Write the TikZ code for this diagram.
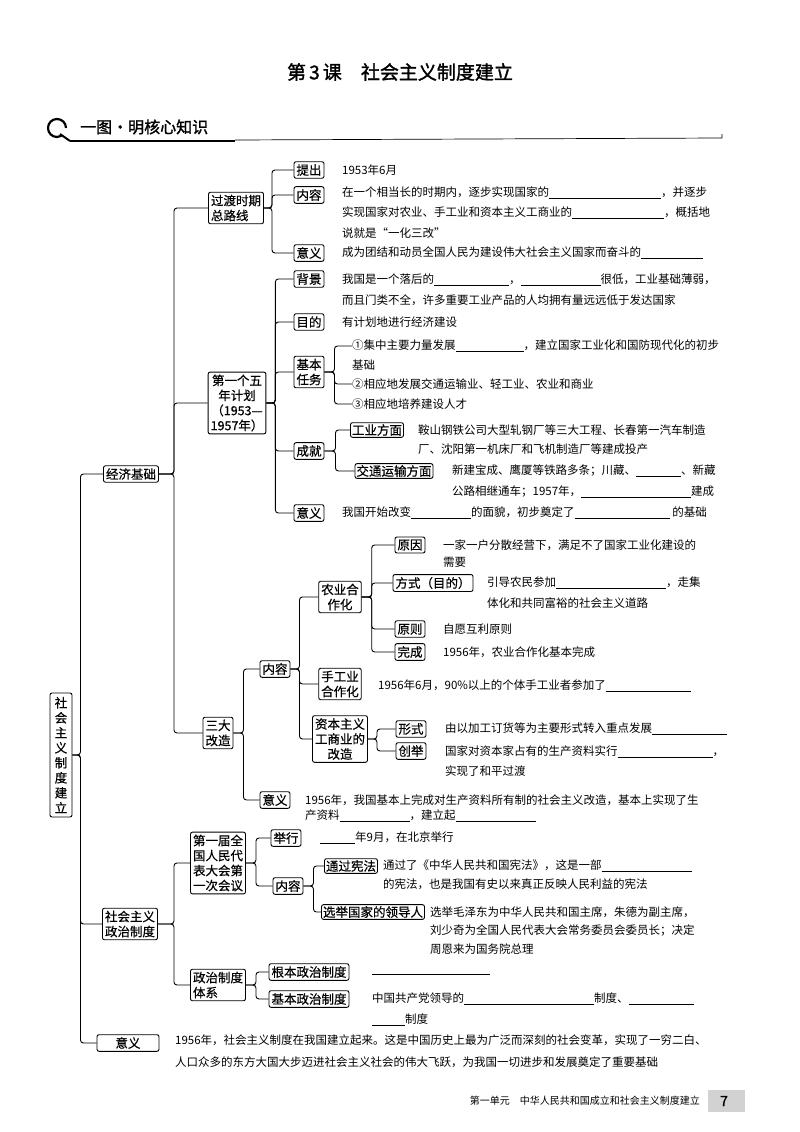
\documentclass[tikz,border=0pt]{standalone}
\usepackage{fontspec}
\setmainfont{Noto Sans CJK SC}[AutoFakeBold=1.5]
\newfontfamily\boxf{Noto Sans CJK SC}[AutoFakeBold=0.5]
\newcommand\bl[1]{\rule[-2pt]{#1pt}{0.6pt}}
\begin{document}
\begin{tikzpicture}[x=1pt,y=-1pt,
  every node/.style={font=\fontsize{11.5}{15}\selectfont},
  bx/.style={draw,rounded corners=2pt,line width=0.9pt,inner sep=2.5pt,align=center,font=\fontsize{12.5}{15}\boxf\bfseries},
  tx/.style={anchor=west,inner sep=0pt},
  ln/.style={line width=0.9pt,rounded corners=3pt}]
\useasboundingbox (0,0) rectangle (800,1132);
\fill[white] (0,0) rectangle (800,1132);
% title
\node (title) at (400,72) {\fontsize{19}{22}\selectfont\bfseries 第\,3\,课\quad 社会主义制度建立};
\draw[line width=2.2pt] (66,128) arc (0:-300:9) coordinate (qa);
\draw[line width=2pt] (60,134) -- (70,141);
\node[tx] (hdr) at (80,127) {\fontsize{16}{18}\selectfont\bfseries 一图·明核心知识};
\draw[line width=1.8pt] (70,141) -- (235,141);
\draw[line width=0.7pt] (235,140) -- (722,138) -- (722,134);
% root
\node[bx,text width=14pt,inner sep=4pt] (root) at (61,755) {社\\会\\主\\义\\制\\度\\建\\立};
\node[bx] (jj) at (131,474) {经济基础};
\node[bx,align=left] (zz) at (130,924) {社会主义\\政治制度};
\node[bx,minimum width=62pt] (yy) at (128,1043) {意义};
\foreach \c in {jj,zz,yy}{\draw[ln] (root.east) -- ++(8,0) |- (\c.west);}
% economy
\node[bx,align=left] (gd) at (236,208) {过渡时期\\总路线};
\node[bx] (wn) at (237,403) {第一个五\\年计划\\（1953—\\1957年）};
\node[bx] (sd) at (218,733) {三大\\改造};
\foreach \c in {gd,wn,sd}{\draw[ln] (jj.east) -- ++(15,0) |- (\c.west);}
% guodu
\node[bx] (tc) at (309,170) {提出};
\node[bx] (nr) at (309,195) {内容};
\node[bx] (yy1) at (309,253) {意义};
\foreach \c in {tc,nr,yy1}{\draw[ln] (gd.east) -- ++(8,0) |- (\c.west);}
\node[tx] at (342,170) {1953年6月};
\node[tx] at (342,193) {在一个相当长的时期内，逐步实现国家的\bl{112}，并逐步};
\node[tx] at (342,213) {实现国家对农业、手工业和资本主义工商业的\bl{92}，概括地};
\node[tx] at (342,233) {说就是“一化三改”};
\node[tx] at (342,253) {成为团结和动员全国人民为建设伟大社会主义国家而奋斗的\bl{62}};
% wunian
\node[bx] (bj) at (309,279) {背景};
\node[bx] (md) at (309,322) {目的};
\node[bx] (rw) at (309,372) {基本\\任务};
\node[bx] (cj) at (309,451) {成就};
\node[bx] (yy2) at (309,513) {意义};
\foreach \c in {bj,md,rw,cj,yy2}{\draw[ln] (wn.east) -- ++(9,0) |- (\c.west);}
\node[tx] at (342,280) {我国是一个落后的\bl{75}，\bl{80}很低，工业基础薄弱，};
\node[tx] at (342,300) {而且门类不全，许多重要工业产品的人均拥有量远远低于发达国家};
\node[tx] at (342,322) {有计划地进行经济建设};
\node[tx] (r1) at (352,346) {①集中主要力量发展\bl{68}，建立国家工业化和国防现代化的初步};
\node[tx] at (352,365) {基础};
\node[tx] (r2) at (352,384) {②相应地发展交通运输业、轻工业、农业和商业};
\node[tx] (r3) at (352,404) {③相应地培养建设人才};
\foreach \c in {r1,r2,r3}{\draw[ln] (rw.east) -- ++(10,0) |- (\c.west);}
\node[bx,inner sep=1.5pt] (gy) at (377,430) {工业方面};
\node[bx,inner sep=1.5pt] (jt) at (394,471) {交通运输方面};
\foreach \c in {gy,jt}{\draw[ln] (cj.east) -- ++(11,0) |- (\c.west);}
\node[tx] at (418,430) {鞍山钢铁公司大型轧钢厂等三大工程、长春第一汽车制造};
\node[tx] at (418,449) {厂、沈阳第一机床厂和飞机制造厂等建成投产};
\node[tx] at (452,471) {新建宝成、鹰厦等铁路多条；川藏、\bl{45}、新藏};
\node[tx] at (452,492) {公路相继通车；1957年，\bl{110}建成};
\node[tx] at (342,513) {我国开始改变\bl{60}的面貌，初步奠定了\bl{95} 的基础};
% sanda
\node[bx] (nr3) at (275,669) {内容};
\node[bx] (yy3) at (275,800) {意义};
\foreach \c in {nr3,yy3}{\draw[ln] (sd.east) -- ++(10,0) |- (\c.west);}
\node[tx] at (305,800) {1956年，我国基本上完成对生产资料所有制的社会主义改造，基本上实现了生};
\node[tx] at (305,816) {产资料\bl{70}，建立起\bl{80}};
\node[bx] (ny) at (340,597) {农业合\\作化};
\node[bx,align=left] (sg) at (340,684) {手工业\\合作化};
\node[bx] (zb) at (340,739) {资本主义\\工商业的\\改造};
\foreach \c in {ny,sg,zb}{\draw[ln] (nr3.east) -- ++(9,0) |- (\c.west);}
\node[bx] (yc) at (410,545) {原因};
\node[bx] (fs) at (433,583) {方式（目的）};
\node[bx] (yz) at (410,629) {原则};
\node[bx] (wc) at (410,652) {完成};
\foreach \c in {yc,fs,yz,wc}{\draw[ln] (ny.east) -- ++(10,0) |- (\c.west);}
\node[tx] at (443,545) {一家一户分散经营下，满足不了国家工业化建设的};
\node[tx] at (443,562) {需要};
\node[tx] at (487,583) {引导农民参加\bl{110}，走集};
\node[tx] at (487,603) {体化和共同富裕的社会主义道路};
\node[tx] at (443,629) {自愿互利原则};
\node[tx] at (443,652) {1956年，农业合作化基本完成};
\node[tx] at (378,686) {1956年6月，90\%以上的个体手工业者参加了\bl{85}};
\node[bx] (xs) at (411,729) {形式};
\node[bx] (cju) at (411,751) {创举};
\foreach \c in {xs,cju}{\draw[ln] (zb.east) -- ++(9,0) |- (\c.west);}
\node[tx] at (445,729) {由以加工订货等为主要形式转入重点发展\bl{75}};
\node[tx] at (445,752) {国家对资本家占有的生产资料实行\bl{95}，};
\node[tx] at (445,771) {实现了和平过渡};
% politics
\node[bx] (dy) at (218,863) {第一届全\\国人民代\\表大会第\\一次会议};
\node[bx,align=left] (zt) at (218,985) {政治制度\\体系};
\foreach \c in {dy,zt}{\draw[ln] (zz.east) -- ++(16,0) |- (\c.west);}
\node[bx] (jx) at (286,838) {举行};
\node[bx] (nr4) at (288,886) {内容};
\foreach \c in {jx,nr4}{\draw[ln] (dy.east) -- ++(10,0) |- (\c.west);}
\node[tx] at (320,838) {\bl{35}年9月，在北京举行};
\node[bx,inner sep=1.5pt] (xf) at (351,866) {通过宪法};
\node[bx,inner sep=1.5pt] (xj) at (373,912) {选举国家的领导人};
\foreach \c in {xf,xj}{\draw[ln] (nr4.east) -- ++(10,0) |- (\c.west);}
\node[tx] at (383,866) {通过了《中华人民共和国宪法》，这是一部\bl{90}};
\node[tx] at (383,884) {的宪法，也是我国有史以来真正反映人民利益的宪法};
\node[tx] at (430,912) {选举毛泽东为中华人民共和国主席，朱德为副主席，};
\node[tx] at (430,931) {刘少奇为全国人民代表大会常务委员会委员长；决定};
\node[tx] at (430,949) {周恩来为国务院总理};
\node[bx] (gb) at (309,972) {根本政治制度};
\node[bx] (jb) at (309,999) {基本政治制度};
\foreach \c in {gb,jb}{\draw[ln] (zt.east) -- ++(10,0) |- (\c.west);}
\node[tx] at (372,974) {\bl{118}};
\node[tx] at (372,999) {中国共产党领导的\bl{130}制度、\bl{65}};
\node[tx] at (372,1020) {\bl{33}制度};
\node[tx] at (175,1040) {1956年，社会主义制度在我国建立起来。这是中国历史上最为广泛而深刻的社会变革，实现了一穷二白、};
\node[tx] at (175,1062) {人口众多的东方大国大步迈进社会主义社会的伟大飞跃，为我国一切进步和发展奠定了重要基础};
% footer
\node[anchor=east,inner sep=0pt] (ft) at (700,1101) {\fontsize{10}{12}\selectfont 第一单元\quad 中华人民共和国成立和社会主义制度建立};
\fill[gray!35] (708,1090) rectangle (745,1112);
\node (pg) at (724,1101) {\fontsize{14}{16}\selectfont\bfseries 7};
\end{tikzpicture}
\end{document}
